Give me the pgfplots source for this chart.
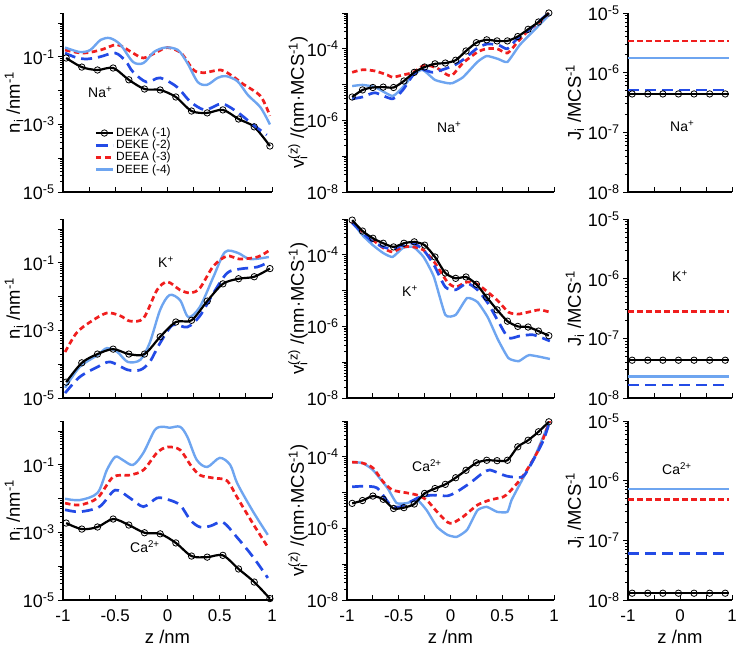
\documentclass[border=0pt]{standalone}
\usepackage{fontspec}
\setmainfont{Liberation Sans}
\usepackage{pgfplots}
\pgfplotsset{compat=1.18}

\definecolor{cDEKE}{RGB}{35,75,230}
\definecolor{cDEEA}{RGB}{240,30,30}
\definecolor{cDEEE}{RGB}{110,165,240}

\newcommand\pten[1]{10\textsuperscript{#1}}

\tikzset{
  kA/.style={black, line width=2.2bp, mark=o, mark size=3.2bp,
    mark options={solid, line width=0.8bp}},
  kB/.style={cDEKE, line width=2.7bp, dash pattern=on 11bp off 6bp},
  kC/.style={cDEEA, line width=2.7bp, dash pattern=on 5.5bp off 3.5bp},
  kD/.style={cDEEE, line width=2.4bp, solid},
}

\pgfplotsset{
  every axis/.append style={
    scale only axis, height=179bp,
    ymode=log, xmin=-1, xmax=1,
    axis x line*=bottom, axis y line*=left,
    axis line style={line width=1.3bp},
    xtick align=inside, ytick align=outside,
    major tick length=5bp, minor tick length=3bp,
    every tick/.append style={black, line width=0.9bp},
    every y tick label/.append style={font=\fontsize{18}{20}\selectfont},
    every x tick label/.append style={font=\fontsize{17}{18}\selectfont, inner sep=0.5bp, yshift=-9bp},
    every axis label/.append style={font=\fontsize{18.5}{21}\selectfont, inner sep=0pt},
    minor ytick={2e-9,3e-9,4e-9,5e-9,6e-9,7e-9,8e-9,9e-9,2e-8,3e-8,4e-8,5e-8,6e-8,7e-8,8e-8,9e-8,2e-7,3e-7,4e-7,5e-7,6e-7,7e-7,8e-7,9e-7,2e-6,3e-6,4e-6,5e-6,6e-6,7e-6,8e-6,9e-6,2e-5,3e-5,4e-5,5e-5,6e-5,7e-5,8e-5,9e-5,2e-4,3e-4,4e-4,5e-4,6e-4,7e-4,8e-4,9e-4,2e-3,3e-3,4e-3,5e-3,6e-3,7e-3,8e-3,9e-3,2e-2,3e-2,4e-2,5e-2,6e-2,7e-2,8e-2,9e-2,2e-1,3e-1,4e-1,5e-1,6e-1,7e-1,8e-1,9e-1,2},
  },
}

\begin{document}
\begin{tikzpicture}
\path[use as bounding box] (0bp,0bp) rectangle (741bp,649bp);

% ---------- row 1: Na+ ----------
\begin{axis}[at={(63bp,457bp)}, anchor=south west, width=209bp,
  ymin=1e-5, ymax=2, ytick={1e-5,1e-4,1e-3,1e-2,1e-1,1},
  yticklabels={\pten{-5},,\pten{-3},,\pten{-1},},
  xtick={-1,-0.75,...,1}, xticklabels={},
  ylabel={n\textsubscript{i} /nm\textsuperscript{-1}},
  every axis y label/.append style={at={(axis description cs:-0.234,0.5)}, anchor=center},
  legend cell align=left,
  legend style={at={(axis description cs:0.15,0.37)}, anchor=north west,
    draw=none, fill=none, font=\fontsize{12}{12}\selectfont,
    row sep=-2bp, inner sep=0pt}]
\addplot[kA, smooth] coordinates {(-0.97,0.093) (-0.82,0.050) (-0.67,0.041) (-0.52,0.047) (-0.37,0.021) (-0.22,0.0112) (-0.07,0.0105) (0.08,0.0065) (0.23,0.0025) (0.38,0.0022) (0.53,0.0027) (0.68,0.00145) (0.83,0.00085) (0.98,0.00023)};
\addlegendentry{DEKA (-1)}
\addplot[kB, smooth] coordinates {(-0.98,0.13) (-0.87,0.095) (-0.77,0.087) (-0.65,0.10) (-0.50,0.13) (-0.40,0.075) (-0.33,0.036) (-0.20,0.018) (-0.07,0.024) (0.09,0.0129) (0.22,0.0047) (0.36,0.0027) (0.52,0.0041) (0.67,0.0023) (0.82,0.00098) (0.95,0.00049)};
\addlegendentry{DEKE (-2)}
\addplot[kC, smooth] coordinates {(-0.98,0.16) (-0.81,0.13) (-0.64,0.16) (-0.48,0.23) (-0.33,0.13) (-0.23,0.093) (-0.10,0.14) (0.0,0.19) (0.13,0.13) (0.25,0.041) (0.35,0.034) (0.51,0.041) (0.63,0.026) (0.72,0.016) (0.89,0.0069) (0.98,0.0018)};
\addlegendentry{DEEA (-3)}
\addplot[kD, smooth] coordinates {(-0.98,0.19) (-0.84,0.14) (-0.74,0.16) (-0.64,0.32) (-0.55,0.36) (-0.45,0.23) (-0.33,0.071) (-0.23,0.066) (-0.13,0.14) (-0.02,0.19) (0.10,0.16) (0.19,0.066) (0.29,0.018) (0.38,0.015) (0.48,0.024) (0.56,0.027) (0.67,0.019) (0.77,0.0074) (0.89,0.0032) (0.98,0.001)};
\addlegendentry{DEEE (-4)}
\end{axis}

\begin{axis}[at={(347bp,457bp)}, anchor=south west, width=207bp,
  ymin=1e-8, ymax=1e-3, ytick={1e-8,1e-7,1e-6,1e-5,1e-4,1e-3},
  yticklabels={\pten{-8},,\pten{-6},,\pten{-4},},
  xtick={-1,-0.75,...,1}, xticklabels={},
  ylabel={v\rlap{\textsubscript{i}}\textsuperscript{(z)} /(nm·MCS\textsuperscript{-1})},
  every axis y label/.append style={at={(axis description cs:-0.237,0.5)}, anchor=center}]
\addplot[kD, smooth, tension=0.3] coordinates {(-0.95,9.1e-6) (-0.85,9.8e-6) (-0.73,8.5e-6) (-0.56,4.8e-6) (-0.46,8.5e-6) (-0.36,1.86e-5) (-0.27,2.6e-5) (-0.15,1.35e-5) (-0.03,1.1e-5) (0.02,1.1e-5) (0.12,1.6e-5) (0.26,4.3e-5) (0.35,6.3e-5) (0.46,5.2e-5) (0.55,4.3e-5) (0.67,1.29e-4) (0.84,4.1e-4) (0.96,9.3e-4)};
\addplot[kC, smooth, tension=0.4] coordinates {(-0.95,2.2e-5) (-0.85,2.6e-5) (-0.73,2.4e-5) (-0.61,1.86e-5) (-0.56,1.6e-5) (-0.46,1.86e-5) (-0.36,2.2e-5) (-0.25,3.5e-5) (-0.13,2.9e-5) (-0.03,1.86e-5) (0.02,1.86e-5) (0.12,4.0e-5) (0.26,8.1e-5) (0.35,1.0e-4) (0.45,1.0e-4) (0.55,7.6e-5) (0.64,1.45e-4) (0.75,3.2e-4) (0.86,5.6e-4) (0.96,1.07e-3)};
\addplot[kB, smooth, tension=0.4] coordinates {(-0.95,4.0e-6) (-0.85,4.5e-6) (-0.73,5.9e-6) (-0.56,4.0e-6) (-0.46,7.1e-6) (-0.36,1.86e-5) (-0.27,2.6e-5) (-0.17,2.2e-5) (-0.03,2.9e-5) (0.04,3.5e-5) (0.12,4.9e-5) (0.26,1.05e-4) (0.35,1.35e-4) (0.46,1.29e-4) (0.55,1.0e-4) (0.64,1.86e-4) (0.75,3.2e-4) (0.96,1.07e-3)};
\addplot[kA, smooth, tension=0.4] coordinates {(-0.95,4.5e-6) (-0.85,7.1e-6) (-0.75,8.3e-6) (-0.65,8.5e-6) (-0.55,8.3e-6) (-0.45,1.26e-5) (-0.35,2.2e-5) (-0.25,3.1e-5) (-0.15,3.8e-5) (-0.05,4.0e-5) (0.05,4.8e-5) (0.15,8.7e-5) (0.25,1.48e-4) (0.35,1.78e-4) (0.45,1.66e-4) (0.55,1.66e-4) (0.65,2.2e-4) (0.75,3.5e-4) (0.85,5.6e-4) (0.95,1.0e-3)};
\end{axis}

\begin{axis}[at={(628bp,457bp)}, anchor=south west, width=104bp,
  ymin=1e-8, ymax=1e-5, ytick={1e-8,1e-7,1e-6,1e-5},
  yticklabels={\pten{-8},\pten{-7},\pten{-6},\pten{-5}},
  xtick={-1,-0.5,0,0.5,1}, xticklabels={},
  ylabel={J\textsubscript{i} /MCS\textsuperscript{-1}},
  every axis y label/.append style={at={(axis description cs:-0.51,0.5)}, anchor=center}]
\addplot[kD] coordinates {(-1,1.75e-6) (0.95,1.75e-6)};
\addplot[kC] coordinates {(-1,3.4e-6) (0.95,3.4e-6)};
\addplot[kB] coordinates {(-1,5.1e-7) (0.95,5.1e-7)};
\addplot[kA, mark indices={2,...,8}] coordinates {(-1,4.4e-7) (-0.92,4.4e-7) (-0.62,4.4e-7) (-0.33,4.4e-7) (-0.03,4.4e-7) (0.27,4.4e-7) (0.57,4.4e-7) (0.87,4.4e-7) (0.95,4.4e-7)};
\end{axis}

% ---------- row 2: K+ ----------
\begin{axis}[at={(63bp,251bp)}, anchor=south west, width=209bp,
  ymin=1e-5, ymax=2, ytick={1e-5,1e-4,1e-3,1e-2,1e-1,1},
  yticklabels={\pten{-5},,\pten{-3},,\pten{-1},},
  xtick={-1,-0.75,...,1}, xticklabels={},
  ylabel={n\textsubscript{i} /nm\textsuperscript{-1}},
  every axis y label/.append style={at={(axis description cs:-0.234,0.5)}, anchor=center}]
\addplot[kD, smooth] coordinates {(-0.98,2.0e-5) (-0.84,8.3e-5) (-0.67,1.86e-4) (-0.58,3.0e-4) (-0.48,2.3e-4) (-0.38,1.17e-4) (-0.26,1.35e-4) (-0.17,4.3e-4) (-0.07,4.1e-3) (0.02,0.0112) (0.12,7.9e-3) (0.20,2.5e-3) (0.31,5.0e-3) (0.44,0.039) (0.55,0.21) (0.67,0.20) (0.79,0.13) (0.97,0.15)};
\addplot[kC, smooth] coordinates {(-0.98,2.3e-4) (-0.87,8.5e-4) (-0.74,1.78e-3) (-0.58,3.3e-3) (-0.45,2.7e-3) (-0.36,1.9e-3) (-0.23,2.3e-3) (-0.10,0.0158) (0.0,0.0275) (0.12,0.0158) (0.22,0.0129) (0.31,0.018) (0.44,0.081) (0.57,0.16) (0.69,0.13) (0.86,0.15) (0.97,0.23)};
\addplot[kB, smooth] coordinates {(-0.98,1.4e-5) (-0.84,4.2e-5) (-0.67,8.3e-5) (-0.55,1.17e-4) (-0.38,6.8e-5) (-0.26,6.8e-5) (-0.17,1.17e-4) (-0.07,4.3e-4) (0.05,1.45e-3) (0.19,1.26e-3) (0.31,2.7e-3) (0.44,0.0129) (0.57,0.05) (0.69,0.066) (0.86,0.076) (0.97,0.107)};
\addplot[kA, smooth] coordinates {(-0.97,2.95e-5) (-0.82,1.1e-4) (-0.67,2.0e-4) (-0.52,2.8e-4) (-0.37,2.0e-4) (-0.22,2.0e-4) (-0.07,6.5e-4) (0.08,1.78e-3) (0.23,2.0e-3) (0.38,7.4e-3) (0.53,0.024) (0.68,0.034) (0.83,0.039) (0.98,0.068)};
\end{axis}

\begin{axis}[at={(347bp,251bp)}, anchor=south west, width=207bp,
  ymin=1e-8, ymax=1e-3, ytick={1e-8,1e-7,1e-6,1e-5,1e-4,1e-3},
  yticklabels={\pten{-8},,\pten{-6},,\pten{-4},},
  xtick={-1,-0.75,...,1}, xticklabels={},
  ylabel={v\rlap{\textsubscript{i}}\textsuperscript{(z)} /(nm·MCS\textsuperscript{-1})},
  every axis y label/.append style={at={(axis description cs:-0.237,0.5)}, anchor=center}]
\addplot[kD, smooth, tension=0.3] coordinates {(-0.95,8.3e-4) (-0.85,3.5e-4) (-0.75,1.86e-4) (-0.65,1.12e-4) (-0.56,8.7e-5) (-0.46,1.55e-4) (-0.36,1.66e-4) (-0.26,8.7e-5) (-0.16,2.4e-5) (-0.05,2.1e-6) (0.05,2.1e-6) (0.16,6.2e-6) (0.26,4.8e-6) (0.36,1.8e-6) (0.46,4.2e-7) (0.56,1.3e-7) (0.66,1.07e-7) (0.76,1.58e-7) (0.96,1.23e-7)};
\addplot[kC, smooth, tension=0.4] coordinates {(-0.95,8.3e-4) (-0.85,4.4e-4) (-0.75,2.6e-4) (-0.65,1.55e-4) (-0.56,1.2e-4) (-0.46,1.66e-4) (-0.36,1.66e-4) (-0.26,1.35e-4) (-0.15,5.9e-5) (-0.03,1.74e-5) (0.05,1.26e-5) (0.16,1.74e-5) (0.26,1.5e-5) (0.36,9.1e-6) (0.46,5.1e-6) (0.56,2.5e-6) (0.65,2.2e-6) (0.75,2.5e-6) (0.86,2.9e-6) (0.96,2.5e-6)};
\addplot[kB, smooth, tension=0.4] coordinates {(-0.95,7.8e-4) (-0.85,4.1e-4) (-0.75,2.3e-4) (-0.65,1.66e-4) (-0.56,1.45e-4) (-0.46,1.86e-4) (-0.36,2.1e-4) (-0.26,1.35e-4) (-0.16,5.2e-5) (-0.05,1.26e-5) (0.05,1.05e-5) (0.16,1.6e-5) (0.26,1.05e-5) (0.36,4.5e-6) (0.46,1.4e-6) (0.56,4.8e-7) (0.67,5.4e-7) (0.80,5.8e-7) (0.96,3.9e-7)};
\addplot[kA, smooth, tension=0.4] coordinates {(-0.95,9.3e-4) (-0.85,4.6e-4) (-0.75,2.9e-4) (-0.65,2.1e-4) (-0.55,1.66e-4) (-0.45,2.1e-4) (-0.35,2.3e-4) (-0.25,1.86e-4) (-0.15,8.7e-5) (-0.05,3.1e-5) (0.05,2.2e-5) (0.15,2.4e-5) (0.25,1.5e-5) (0.35,6.5e-6) (0.45,2.9e-6) (0.55,1.4e-6) (0.65,1.0e-6) (0.75,9.6e-7) (0.85,7.4e-7) (0.95,5.5e-7)};
\end{axis}

\begin{axis}[at={(628bp,251bp)}, anchor=south west, width=104bp,
  ymin=1e-8, ymax=1e-5, ytick={1e-8,1e-7,1e-6,1e-5},
  yticklabels={\pten{-8},\pten{-7},\pten{-6},\pten{-5}},
  xtick={-1,-0.5,0,0.5,1}, xticklabels={},
  ylabel={J\textsubscript{i} /MCS\textsuperscript{-1}},
  every axis y label/.append style={at={(axis description cs:-0.51,0.5)}, anchor=center}]
\addplot[kD] coordinates {(-1,2.3e-8) (0.95,2.3e-8)};
\addplot[kC] coordinates {(-1,2.8e-7) (0.95,2.8e-7)};
\addplot[kB] coordinates {(-1,1.66e-8) (0.95,1.66e-8)};
\addplot[kA, mark indices={2,...,8}] coordinates {(-1,4.3e-8) (-0.92,4.3e-8) (-0.62,4.3e-8) (-0.33,4.3e-8) (-0.03,4.3e-8) (0.27,4.3e-8) (0.57,4.3e-8) (0.87,4.3e-8) (0.95,4.3e-8)};
\end{axis}

% ---------- row 3: Ca2+ ----------
\begin{axis}[at={(63bp,49bp)}, anchor=south west, width=209bp,
  ymin=1e-5, ymax=2, ytick={1e-5,1e-4,1e-3,1e-2,1e-1,1},
  yticklabels={\pten{-5},,\pten{-3},,\pten{-1},},
  xtick={-1,-0.75,...,1}, xticklabels={-1,,-0.5,,0,,0.5,,1},
  ylabel={n\textsubscript{i} /nm\textsuperscript{-1}},
  every axis y label/.append style={at={(axis description cs:-0.234,0.5)}, anchor=center},
  xlabel={z /nm},
  every axis x label/.append style={at={(axis description cs:0.5,-0.205)}, anchor=center}]
\addplot[kD, smooth] coordinates {(-0.98,0.010) (-0.84,9.1e-3) (-0.67,0.0148) (-0.58,0.071) (-0.50,0.174) (-0.43,0.141) (-0.33,0.10) (-0.23,0.23) (-0.12,1.1) (-0.04,1.35) (0.02,1.26) (0.12,1.35) (0.19,0.68) (0.28,0.141) (0.38,0.087) (0.50,0.162) (0.60,0.10) (0.67,0.0275) (0.82,4.1e-3) (0.96,8.5e-4)};
\addplot[kC, smooth] coordinates {(-0.98,7.4e-3) (-0.84,6.5e-3) (-0.67,0.0105) (-0.52,0.044) (-0.36,0.05) (-0.23,0.071) (-0.10,0.23) (0.0,0.34) (0.12,0.28) (0.22,0.10) (0.31,0.05) (0.44,0.041) (0.57,0.034) (0.67,0.0105) (0.82,1.78e-3) (0.96,3.7e-4)};
\addplot[kB, smooth] coordinates {(-0.98,4.7e-3) (-0.84,4.1e-3) (-0.65,5.8e-3) (-0.50,0.018) (-0.36,0.0105) (-0.23,5.8e-3) (-0.10,0.0105) (0.0,0.0095) (0.12,6.5e-3) (0.22,2.3e-3) (0.31,1.45e-3) (0.41,1.55e-3) (0.53,2.0e-3) (0.67,6.9e-4) (0.82,1.86e-4) (0.96,4.5e-5)};
\addplot[kA, smooth] coordinates {(-0.97,1.9e-3) (-0.82,1.26e-3) (-0.67,1.45e-3) (-0.52,2.5e-3) (-0.37,1.66e-3) (-0.22,9.8e-4) (-0.07,9.1e-4) (0.08,4.9e-4) (0.23,2.0e-4) (0.38,1.86e-4) (0.53,2.1e-4) (0.68,8.3e-5) (0.83,3.4e-5) (0.98,1.1e-5)};
\end{axis}

\begin{axis}[at={(347bp,49bp)}, anchor=south west, width=207bp,
  ymin=1e-8, ymax=1e-3, ytick={1e-8,1e-7,1e-6,1e-5,1e-4,1e-3},
  yticklabels={\pten{-8},,\pten{-6},,\pten{-4},},
  xtick={-1,-0.75,...,1}, xticklabels={-1,,-0.5,,0,,0.5,,1},
  ylabel={v\rlap{\textsubscript{i}}\textsuperscript{(z)} /(nm·MCS\textsuperscript{-1})},
  every axis y label/.append style={at={(axis description cs:-0.237,0.5)}, anchor=center},
  xlabel={z /nm},
  every axis x label/.append style={at={(axis description cs:0.5,-0.205)}, anchor=center}]
\addplot[kD, smooth, tension=0.3] coordinates {(-0.95,7.1e-5) (-0.85,6.7e-5) (-0.75,4.3e-5) (-0.61,1.35e-5) (-0.52,5.1e-6) (-0.42,5.1e-6) (-0.32,6.2e-6) (-0.23,3.2e-6) (-0.13,1.1e-6) (-0.03,6.6e-7) (0.06,5.8e-7) (0.16,9.1e-7) (0.26,3.2e-6) (0.35,4.0e-6) (0.45,2.9e-6) (0.55,2.9e-6) (0.59,6.2e-6) (0.69,2.2e-5) (0.82,1.12e-4) (0.96,1.0e-3)};
\addplot[kC, smooth, tension=0.4] coordinates {(-0.95,7.1e-5) (-0.85,6.7e-5) (-0.75,4.9e-5) (-0.65,2.0e-5) (-0.56,1.18e-5) (-0.42,9.8e-6) (-0.32,8.5e-6) (-0.23,6.2e-6) (-0.13,2.9e-6) (-0.03,1.5e-6) (0.02,1.4e-6) (0.12,2.1e-6) (0.26,4.5e-6) (0.38,6.2e-6) (0.51,7.6e-6) (0.57,1.05e-5) (0.70,2.9e-5) (0.85,1.55e-4) (0.96,1.0e-3)};
\addplot[kB, smooth, tension=0.4] coordinates {(-0.95,1.45e-5) (-0.85,1.5e-5) (-0.71,1.35e-5) (-0.58,4.5e-6) (-0.49,4.0e-6) (-0.39,5.5e-6) (-0.29,7.6e-6) (-0.17,8.5e-6) (-0.03,8.1e-6) (0.06,1.05e-5) (0.19,1.86e-5) (0.31,3.5e-5) (0.38,4.3e-5) (0.51,3.1e-5) (0.57,2.8e-5) (0.70,2.8e-5) (0.80,8.1e-5) (0.90,3.0e-4) (0.96,1.0e-3)};
\addplot[kA, smooth, tension=0.4] coordinates {(-0.95,5.0e-6) (-0.85,6.0e-6) (-0.75,8.0e-6) (-0.65,6.5e-6) (-0.55,3.6e-6) (-0.45,3.8e-6) (-0.35,4.8e-6) (-0.25,9.5e-6) (-0.15,1.3e-5) (-0.05,1.7e-5) (0.05,2.6e-5) (0.15,4.2e-5) (0.25,6.8e-5) (0.35,8.0e-5) (0.45,7.8e-5) (0.55,8.0e-5) (0.65,1.9e-4) (0.75,2.9e-4) (0.85,5.0e-4) (0.95,9.5e-4)};
\end{axis}

\begin{axis}[at={(628bp,49bp)}, anchor=south west, width=104bp,
  ymin=1e-8, ymax=1e-5, ytick={1e-8,1e-7,1e-6,1e-5},
  yticklabels={\pten{-8},\pten{-7},\pten{-6},\pten{-5}},
  xtick={-1,-0.5,0,0.5,1}, xticklabels={-1,,0,,1},
  ylabel={J\textsubscript{i} /MCS\textsuperscript{-1}},
  every axis y label/.append style={at={(axis description cs:-0.51,0.5)}, anchor=center},
  xlabel={z /nm},
  every axis x label/.append style={at={(axis description cs:0.5,-0.205)}, anchor=center}]
\addplot[kD] coordinates {(-1,7.2e-7) (0.95,7.2e-7)};
\addplot[kC] coordinates {(-1,4.9e-7) (0.95,4.9e-7)};
\addplot[kB] coordinates {(-1,6.0e-8) (0.95,6.0e-8)};
\addplot[kA, mark indices={2,...,8}] coordinates {(-1,1.3e-8) (-0.92,1.3e-8) (-0.62,1.3e-8) (-0.33,1.3e-8) (-0.03,1.3e-8) (0.27,1.3e-8) (0.57,1.3e-8) (0.87,1.3e-8) (0.95,1.3e-8)};
\end{axis}

% ion labels
\begin{scope}[every node/.style={anchor=base west, inner sep=0pt, font=\fontsize{14}{16}\selectfont}]
\node at (88bp,551bp) {Na\textsuperscript{+}};
\node at (437bp,516bp) {Na\textsuperscript{+}};
\node at (670bp,517bp) {Na\textsuperscript{+}};
\node at (158bp,381bp) {K\textsuperscript{+}};
\node at (402bp,352bp) {K\textsuperscript{+}};
\node at (672bp,367bp) {K\textsuperscript{+}};
\node at (130bp,96bp) {Ca\textsuperscript{2+}};
\node at (412bp,177bp) {Ca\textsuperscript{2+}};
\node at (662bp,174bp) {Ca\textsuperscript{2+}};
\end{scope}
\end{tikzpicture}
\end{document}
